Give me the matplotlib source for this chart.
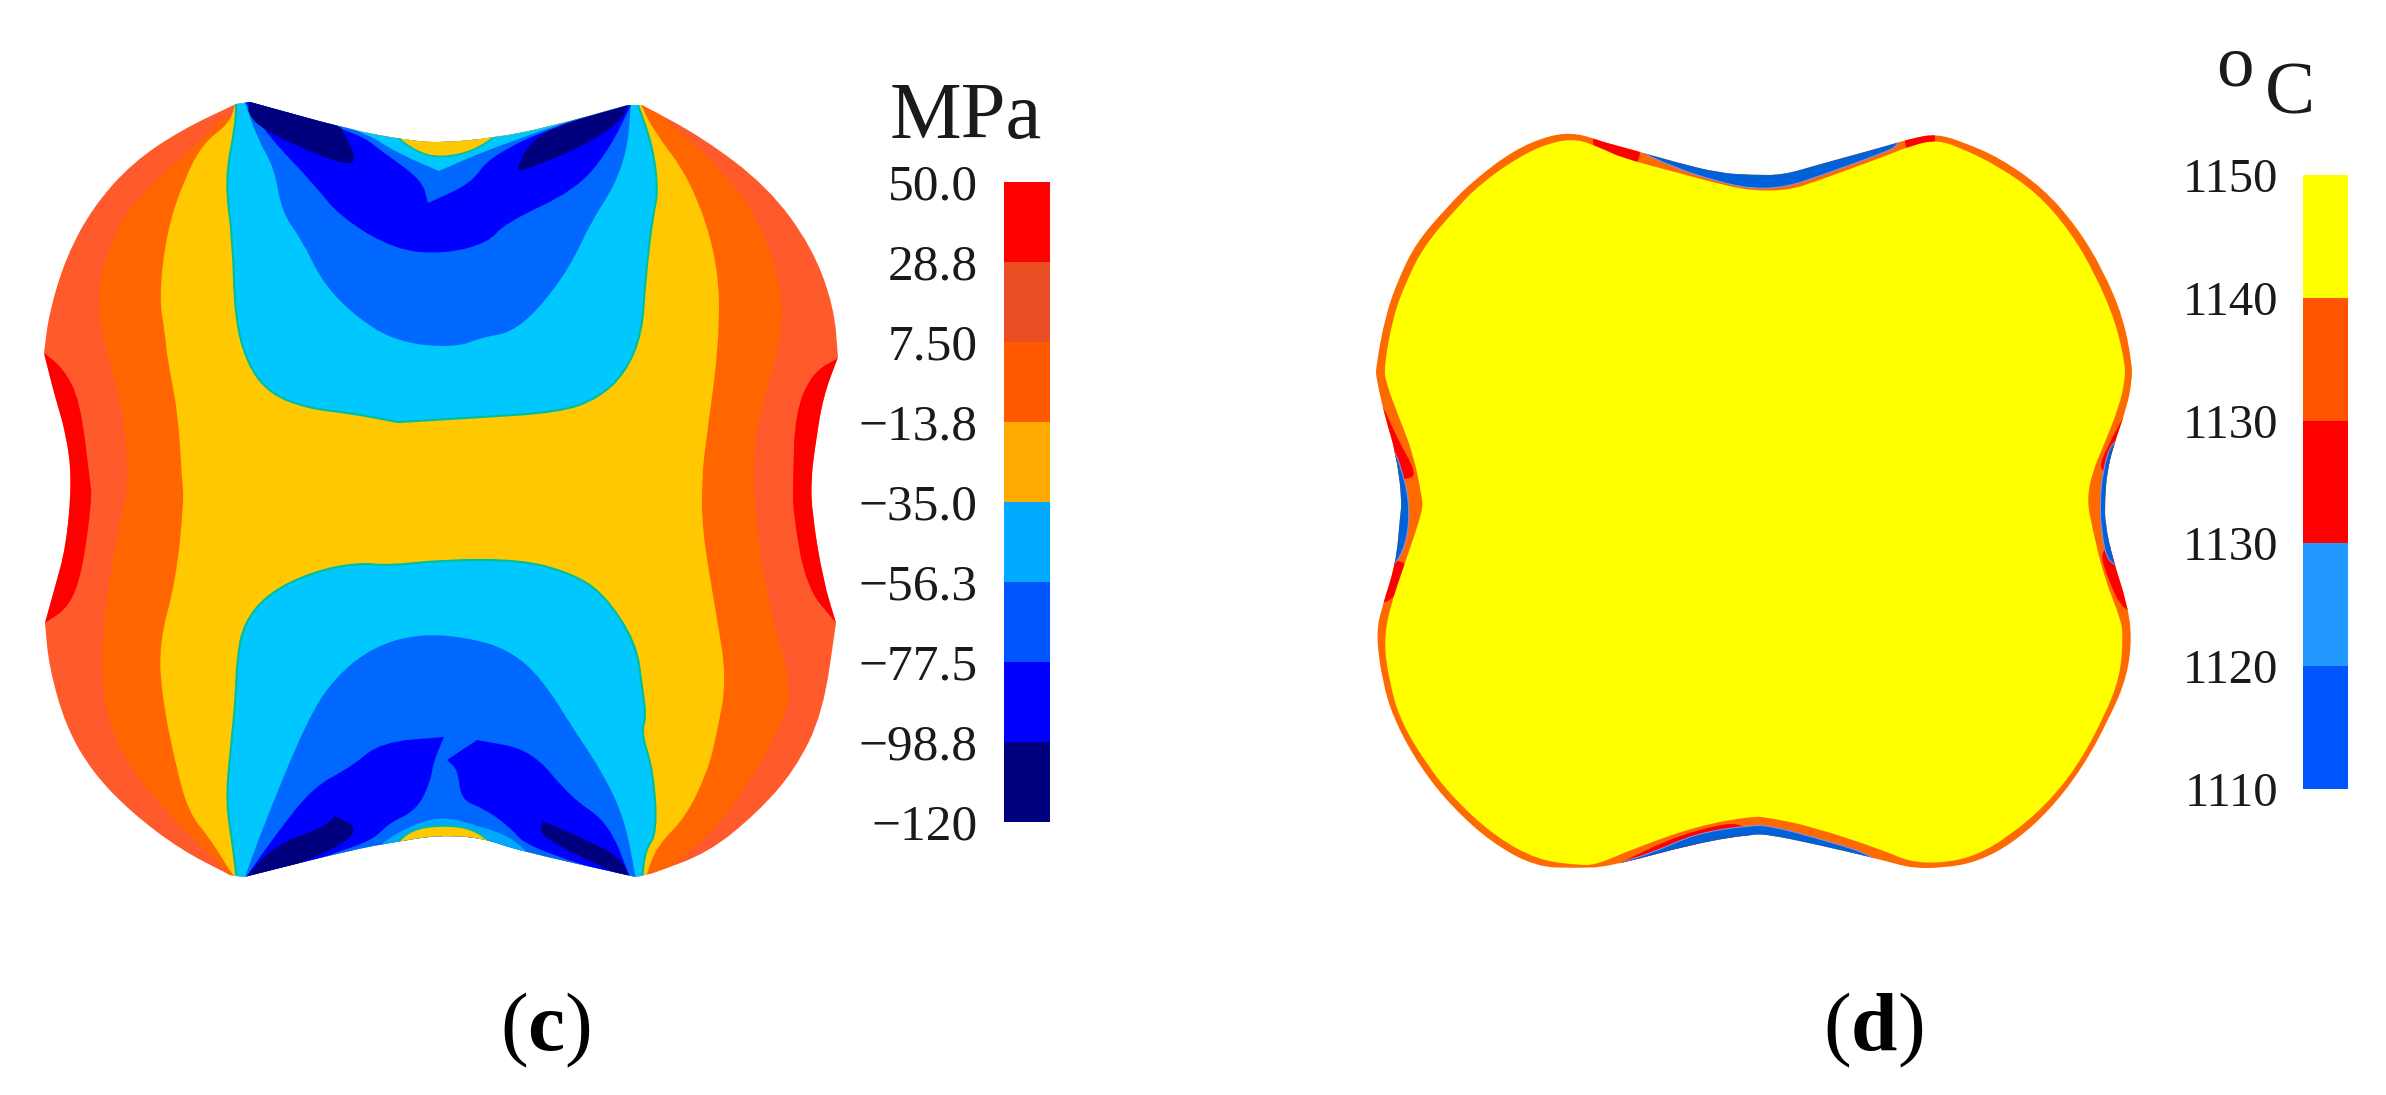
#!/usr/bin/env python3
# -*- coding: utf-8 -*-
import matplotlib
matplotlib.use("Agg")
import matplotlib.pyplot as plt
from matplotlib.cm import ScalarMappable
from matplotlib.colors import BoundaryNorm, ListedColormap
from matplotlib.patches import PathPatch
from matplotlib.path import Path

plt.rcParams['font.family'] = ['Liberation Serif', 'DejaVu Serif']
plt.rcParams['mathtext.fontset'] = 'custom'
plt.rcParams['mathtext.rm'] = 'Liberation Serif'
plt.rcParams['mathtext.bf'] = 'Liberation Serif:bold'

W, H = 2386, 1095

# colour bars
stress_levels = [-120, -98.8, -77.5, -56.3, -35.0, -13.8, 7.50, 28.8, 50.0]
stress_labels = ['\u2212120', '\u221298.8', '\u221277.5', '\u221256.3', '\u221235.0',
                 '\u221213.8', '7.50', '28.8', '50.0']
stress_colors = ['#00007F', '#0000FF', '#0055FF', '#00AAFF', '#FFAA00',
                 '#FF5A00', '#E84E22', '#FF0000']
temp_levels = [1110, 1118, 1126, 1134, 1142, 1150]
temp_labels = ['1110', '1120', '1130', '1130', '1140', '1150']
temp_colors = ['#0055FF', '#2299FF', '#FF0000', '#FF5500', '#FFFF00']

# panel (c), contour regions, in picture pixels
# a repeated point is a sharp corner of the traced edge
c_outline = [(236, 104), (236, 104), (181, 130), (132, 163), (93, 207), (66, 257), (49, 313),
             (44, 353), (44, 353), (55, 397), (66, 433), (72, 480), (66, 547), (55, 587),
             (45, 623), (45, 623), (49, 667), (66, 727), (93, 773), (132, 813), (181, 850),
             (230, 875), (230, 875), (244, 877), (244, 877), (351, 850), (395, 842), (439, 835),
             (483, 838), (516, 850), (636, 877), (636, 877), (653, 873), (653, 873), (708, 853),
             (757, 813), (795, 770), (823, 713), (836, 623), (836, 623), (823, 580), (812, 513),
             (811, 480), (815, 447), (823, 397), (838, 357), (838, 357), (834, 307), (812, 247),
             (768, 187), (702, 137), (642, 105), (642, 105), (628, 105), (628, 105), (549, 127),
             (494, 138), (439, 143), (406, 140), (351, 130), (250, 102), (250, 102)]
c_red_left = [(20, 353), (44, 353), (44, 353), (63, 368), (80, 400), (90, 480), (92, 500), (82, 573),
              (69, 607), (45, 623), (45, 623), (20, 623)]
c_red_right = [(860, 358), (838, 358), (838, 358), (812, 373), (795, 413), (793, 480), (793, 513),
               (806, 587), (836, 623), (836, 623), (860, 623)]
c_orange = [(230, 107), (203, 140), (154, 180), (118, 223), (99, 280), (99, 320), (110, 363),
            (123, 413), (129, 480), (122, 513), (112, 563), (101, 640), (104, 713),
            (132, 773), (181, 827), (225, 870), (230, 880), (230, 880), (653, 880), (653, 880),
            (713, 833), (751, 780), (787, 713), (790, 680), (768, 603), (754, 513), (754, 447),
            (760, 413), (779, 347), (784, 297), (760, 220), (719, 167), (675, 127), (642, 100)]
c_yellow = [(236, 100), (230, 123), (203, 143), (184, 180), (167, 230), (159, 297), (165, 333),
            (167, 357), (178, 413), (182, 480), (184, 500), (176, 580), (159, 643), (162, 697),
            (176, 767), (189, 813), (211, 840), (228, 868), (237, 880), (237, 880), (645, 880),
            (645, 880), (656, 847), (686, 817), (708, 770), (716, 737), (727, 680), (716, 613),
            (702, 530), (702, 480), (705, 447), (719, 347), (719, 263), (691, 180), (653, 130),
            (639, 100), (639, 100), (236, 100)]
c_cyan_top = [(236, 100), (236, 100), (236, 123), (225, 180), (233, 240), (235, 317), (247, 363),
              (269, 393), (307, 408), (351, 413), (398, 422), (398, 422), (466, 418), (560, 412),
              (598, 398), (625, 373), (642, 333), (645, 280), (653, 213), (658, 193), (653, 147),
              (636, 100), (636, 100)]
c_blue_top = [(244, 100), (244, 100), (258, 140), (274, 167), (282, 213), (302, 240), (321, 280),
              (351, 313), (395, 342), (455, 348), (483, 337), (510, 333), (538, 310), (570, 267),
              (592, 220), (614, 187), (628, 147), (631, 100), (631, 100), (494, 147), (439, 171),
              (439, 171), (395, 152), (362, 130)]
c_deep_top = [(244, 100), (244, 100), (269, 137), (313, 183), (340, 217), (395, 250), (444, 254),
              (488, 243), (505, 223), (576, 190), (609, 150), (631, 105), (631, 105), (549, 128),
              (488, 158), (472, 183), (428, 203), (428, 203), (422, 180), (384, 153), (357, 132)]
c_navy_top_l = [(250, 100), (250, 100), (247, 113), (263, 130), (324, 158), (351, 165), (356, 157),
                (346, 138), (340, 123)]
c_navy_top_r = [(628, 105), (628, 105), (620, 123), (581, 147), (543, 163), (518, 172), (518, 165),
                (527, 147), (549, 128)]
c_notch_top = [(395, 136), (395, 136), (417, 152), (439, 158), (472, 152), (499, 134), (499, 134)]
c_cyan_bot = [(237, 880), (237, 880), (233, 847), (226, 800), (231, 747), (236, 697), (237, 660),
              (244, 623), (269, 593), (313, 572), (357, 563), (389, 566), (444, 560), (521, 560),
              (570, 573), (603, 593), (636, 643), (642, 687), (646, 717), (641, 733), (653, 770),
              (657, 833), (645, 850), (642, 880), (642, 880)]
c_blue_bot = [(244, 880), (244, 880), (263, 827), (307, 720), (335, 677), (373, 647), (417, 634),
              (466, 637), (510, 650), (543, 680), (576, 733), (603, 773), (625, 820), (636, 880),
              (636, 880)]
c_deep_bot_l = [(244, 880), (244, 880), (274, 837), (313, 787), (351, 767), (381, 742), (444, 737),
                (444, 737), (433, 763), (431, 780), (417, 810), (389, 823), (373, 840), (335, 853),
                (258, 880), (258, 880)]
c_deep_bot_r = [(477, 740), (477, 740), (532, 750), (570, 797), (609, 823), (631, 880), (631, 880),
                (527, 847), (510, 827), (483, 808), (461, 800), (458, 770), (447, 760), (447, 760)]
c_navy_bot_l = [(244, 880), (244, 880), (274, 845), (324, 827), (335, 816), (335, 816), (359, 828),
                (340, 847), (258, 880), (258, 880)]
c_navy_bot_r = [(543, 821), (543, 821), (538, 837), (631, 880), (631, 880), (620, 857), (587, 840)]
c_notch_cyan = [(373, 852), (373, 852), (395, 833), (439, 815), (483, 827), (510, 837), (527, 852),
                (527, 852)]
c_notch_bot = [(395, 845), (395, 845), (411, 830), (439, 825), (472, 828), (494, 845), (494, 845)]

# panel (d)
d_outline = [(1376, 367), (1385, 317), (1398, 280), (1416, 243), (1447, 207), (1474, 180),
             (1514, 150), (1550, 135), (1577, 133), (1603, 142), (1626, 148), (1675, 162),
             (1719, 173), (1753, 175), (1783, 175), (1817, 165), (1883, 147), (1913, 138),
             (1937, 134), (1963, 142), (2000, 158), (2043, 188), (2077, 227), (2103, 270),
             (2123, 317), (2132, 363), (2132, 380), (2127, 407), (2113, 447), (2107, 473),
             (2105, 500), (2105, 523), (2113, 560), (2127, 603), (2132, 637), (2127, 677),
             (2110, 717), (2083, 767), (2050, 810), (2013, 843), (1977, 862), (1943, 868),
             (1910, 868), (1883, 860), (1810, 843), (1770, 835), (1753, 834), (1697, 843),
             (1608, 867), (1577, 868), (1536, 867), (1492, 843), (1452, 807), (1420, 767),
             (1394, 720), (1382, 680), (1376, 633), (1382, 607), (1396, 563), (1400, 517),
             (1402, 500), (1396, 453), (1385, 417), (1376, 377)]
d_yellow = [(1384, 367), (1393, 317), (1406, 282), (1424, 246), (1454, 211), (1480, 184),
            (1520, 156), (1552, 142), (1577, 139), (1601, 148), (1622, 158), (1675, 172),
            (1719, 184), (1753, 191), (1790, 190), (1817, 181), (1883, 157), (1913, 145),
            (1937, 140), (1961, 148), (1998, 166), (2037, 193), (2070, 231), (2095, 274),
            (2115, 320), (2125, 363), (2125, 380), (2119, 407), (2103, 447), (2092, 473),
            (2087, 500), (2092, 527), (2104, 577), (2121, 620), (2123, 637), (2120, 677),
            (2104, 717), (2077, 767), (2045, 806), (2008, 837), (1975, 856), (1943, 863),
            (1910, 862), (1883, 850), (1810, 826), (1770, 818), (1753, 816), (1697, 826),
            (1630, 850), (1596, 865), (1577, 865), (1538, 860), (1496, 837), (1456, 801),
            (1427, 765), (1400, 720), (1389, 680), (1384, 643), (1389, 610), (1407, 557),
            (1423, 510), (1422, 497), (1413, 453), (1400, 420), (1386, 383)]
d_red_parts = [[(1588, 130), (1640, 130), (1640, 170), (1600, 165)],
               [(1905, 125), (1935, 125), (1935, 150), (1905, 155)],
               [(1590, 880), (1640, 852), (1697, 829), (1753, 820), (1753, 880)],
               [(1378, 395), (1398, 440), (1415, 470), (1412, 480), (1365, 480), (1365, 400)],
               [(1365, 560), (1412, 560), (1400, 590), (1385, 605), (1365, 600)],
               [(2130, 405), (2108, 445), (2096, 475), (2145, 475), (2145, 405)],
               [(2098, 545), (2108, 580), (2124, 612), (2145, 612), (2145, 545)]]
d_blue_parts = [[(1628, 146), (1675, 168), (1719, 182), (1753, 189), (1786, 187), (1817, 177),
                 (1883, 153), (1900, 145), (1900, 120), (1628, 120)],
                [(1612, 865), (1652, 853), (1697, 833), (1753, 825), (1770, 826), (1810, 836),
                 (1883, 858), (1883, 885), (1612, 885)],
                [(1390, 440), (1404, 475), (1410, 510), (1406, 545), (1392, 570), (1370, 560), (1370, 450)],
                [(2112, 440), (2103, 470), (2100, 500), (2101, 530), (2108, 565), (2130, 565), (2130, 440)]]


def smooth_path(points):
    # closed quadratic spline with the traced points as control points
    n = len(points)
    mid = [((points[i][0] + points[(i + 1) % n][0]) / 2,
            (points[i][1] + points[(i + 1) % n][1]) / 2) for i in range(n)]
    verts = [mid[-1]]
    codes = [Path.MOVETO]
    for i in range(n):
        verts += [points[i], mid[i]]
        codes += [Path.CURVE3, Path.CURVE3]
    return Path(verts, codes)


def add_region(ax, points, color, clip=None, edge=None, lw=0.0):
    patch = PathPatch(smooth_path(points), facecolor=color, edgecolor=edge or 'none', linewidth=lw)
    ax.add_patch(patch)
    if clip is not None:
        patch.set_clip_path(clip)
    return patch


def add_bar(fig, box, levels, labels, colors, size, pad):
    x0, y0, x1, y1 = box
    cax = fig.add_axes([x0 / W, 1 - y1 / H, (x1 - x0) / W, (y1 - y0) / H])
    sm = ScalarMappable(BoundaryNorm(levels, len(colors)), ListedColormap(colors))
    cb = fig.colorbar(sm, cax=cax, ticks=levels, spacing='uniform', drawedges=False)
    cb.outline.set_visible(False)
    cax.yaxis.set_ticks_position('left')
    cax.set_yticks(levels)
    cax.set_yticklabels(labels)
    cax.minorticks_off()
    cax.tick_params(axis='y', length=0, pad=pad, labelsize=size, labelcolor='#1a1a1a')
    return cb


fig = plt.figure(figsize=(W / 100, H / 100), dpi=100)
ax = fig.add_axes([0, 0, 1, 1])
ax.set_xlim(0, W)
ax.set_ylim(H, 0)
ax.axis('off')

# panel (c)
body = add_region(ax, c_outline, '#FF5A2C')
for pts in (c_red_left, c_red_right):
    add_region(ax, pts, '#FF0000', clip=body)
add_region(ax, c_orange, '#FF6600', clip=body)
add_region(ax, c_yellow, '#FFC800', clip=body)
for pts in (c_cyan_top, c_cyan_bot):
    add_region(ax, pts, '#00C8FF', clip=body, edge='#00BFA0', lw=1.6)
for pts in (c_blue_top, c_blue_bot):
    add_region(ax, pts, '#0068FF', clip=body)
add_region(ax, c_notch_cyan, '#00A8FF', clip=body)
for pts in (c_deep_top, c_deep_bot_l, c_deep_bot_r):
    add_region(ax, pts, '#0000FF', clip=body)
for pts in (c_navy_top_l, c_navy_top_r, c_navy_bot_l, c_navy_bot_r):
    add_region(ax, pts, '#00007F', clip=body)
for pts in (c_notch_top, c_notch_bot):
    add_region(ax, pts, '#FFC800', clip=body, edge='#00BFA0', lw=1.2)

# panel (d)
shell = add_region(ax, d_outline, '#FF6A00')
for pts in d_red_parts:
    add_region(ax, pts, '#FF0000', clip=shell)
for pts in d_blue_parts:
    add_region(ax, pts, '#0062D8', clip=shell, edge='#8C8CE0', lw=0.8)
add_region(ax, d_yellow, '#FFFF00')

# colour bars and units
add_bar(fig, (1004, 182, 1050, 822), stress_levels, stress_labels, stress_colors, 37, 19)
add_bar(fig, (2303, 175, 2348, 789), temp_levels, temp_labels, temp_colors, 35, 18)
ax.text(966, 138, 'MPa', fontsize=58, ha='center', va='baseline', color='#1a1a1a')
ax.text(2235, 85, 'o', fontsize=54, ha='center', va='baseline', color='#1a1a1a')
ax.text(2290, 114, 'C', fontsize=54, ha='center', va='baseline', color='#1a1a1a')

# panel letters
ax.text(545, 1050, r'$\mathrm{(}\mathbf{c}\mathrm{)}$', fontsize=60, ha='center', va='baseline')
ax.text(1873, 1050, r'$\mathrm{(}\mathbf{d}\mathrm{)}$', fontsize=60, ha='center', va='baseline')

fig.savefig("out.png", dpi=100, facecolor='white')
